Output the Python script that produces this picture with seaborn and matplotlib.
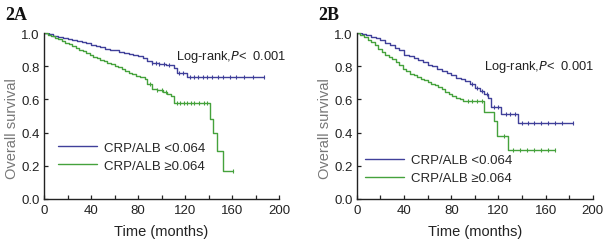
import numpy as np
import pandas as pd
import matplotlib
matplotlib.use('Agg')
import matplotlib.pyplot as plt
import seaborn as sns

# ---- Panel 2A ----
a_low_t = [0, 4, 8, 12, 16, 20, 24, 28, 32, 36, 40, 44, 48, 52, 56, 60, 64, 68, 72, 76,
           80, 84, 88, 92, 98, 104, 111, 113, 122]
a_low_s = [1.0, 0.995, 0.985, 0.978, 0.97, 0.965, 0.958, 0.95, 0.945, 0.938, 0.93, 0.922,
           0.915, 0.905, 0.9, 0.895, 0.888, 0.88, 0.875, 0.868, 0.86, 0.85, 0.83, 0.822,
           0.815, 0.81, 0.79, 0.757, 0.735]
a_low_end = 187
a_low_cens = [92, 95, 98, 102, 106, 115, 118, 124, 128, 131, 135, 139, 143, 148, 152, 158,
              163, 170, 178, 187]

a_high_t = [0, 3, 6, 9, 12, 15, 18, 21, 24, 27, 30, 33, 36, 39, 42, 45, 48, 51, 54, 57, 60,
            63, 66, 69, 72, 75, 78, 82, 86, 88, 92, 96, 101, 105, 108, 111, 141, 143.5, 147, 152]
a_high_s = [1.0, 0.99, 0.982, 0.972, 0.962, 0.952, 0.942, 0.932, 0.92, 0.91, 0.9, 0.89,
            0.878, 0.865, 0.857, 0.848, 0.84, 0.83, 0.822, 0.813, 0.803, 0.795, 0.785, 0.772,
            0.762, 0.752, 0.742, 0.735, 0.72, 0.69, 0.665, 0.655, 0.645, 0.632, 0.62, 0.58,
            0.48, 0.40, 0.29, 0.17]
a_high_end = 161
a_high_cens = [90, 96, 100, 104, 113, 116, 119, 122, 125, 128, 132, 136, 139, 161]

# ---- Panel 2B ----
b_low_t = [0, 4, 8, 12, 16, 20, 24, 28, 32, 36, 40, 44, 48, 52, 56, 60, 64, 68, 72, 76, 80,
           84, 88, 92, 96, 100, 104, 108, 111, 114, 122, 137]
b_low_s = [1.0, 0.995, 0.988, 0.978, 0.968, 0.958, 0.94, 0.925, 0.91, 0.895, 0.87, 0.86,
           0.848, 0.835, 0.825, 0.81, 0.8, 0.785, 0.77, 0.758, 0.745, 0.73, 0.72, 0.71,
           0.695, 0.67, 0.65, 0.63, 0.61, 0.555, 0.515, 0.455]
b_low_end = 183
b_low_cens = [98, 102, 106, 110, 116, 120, 126, 130, 134, 140, 145, 150, 156, 162, 168, 174, 183]

b_high_t = [0, 3, 6, 9, 12, 15, 18, 21, 24, 27, 30, 33, 36, 39, 42, 45, 48, 51, 54, 57, 60,
            63, 66, 69, 72, 75, 78, 81, 84, 87, 90, 108, 116, 119, 128]
b_high_s = [1.0, 0.99, 0.975, 0.96, 0.945, 0.925, 0.905, 0.885, 0.87, 0.855, 0.845, 0.825,
            0.805, 0.785, 0.77, 0.755, 0.745, 0.735, 0.725, 0.715, 0.705, 0.695, 0.685,
            0.675, 0.66, 0.645, 0.635, 0.62, 0.61, 0.6, 0.59, 0.525, 0.47, 0.38, 0.295]
b_high_end = 168
b_high_cens = [94, 98, 102, 106, 125, 132, 138, 144, 150, 156, 162, 168]

labels = ['CRP/ALB <0.064', 'CRP/ALB ≥0.064']
colors = ['#40409a', '#45a23c']


def km_frame(t, s, end):
    return pd.DataFrame({'time': list(t) + [end], 'surv': list(s) + [s[-1]]})


def cens_frame(t, s, cens):
    idx = np.searchsorted(np.array(t), np.array(cens), side='right') - 1
    return pd.DataFrame({'time': cens, 'surv': np.array(s)[idx]})


sns.set_style('ticks')
plt.rcParams['font.family'] = ['Liberation Sans', 'DejaVu Sans']

fig = plt.figure(figsize=(6.08, 2.53), dpi=100)
ax_a = fig.add_axes([0.0724, 0.2095, 0.3865, 0.656])
ax_b = fig.add_axes([0.587, 0.2095, 0.388, 0.656])

panels = [
    (ax_a, '2A', [(a_low_t, a_low_s, a_low_end, a_low_cens), (a_high_t, a_high_s, a_high_end, a_high_cens)],
     (0.56, 0.86), (0.025, 0.115)),
    (ax_b, '2B', [(b_low_t, b_low_s, b_low_end, b_low_cens), (b_high_t, b_high_s, b_high_end, b_high_cens)],
     (0.54, 0.80), (0.0, 0.04)),
]

for ax, tag, groups, lr_pos, leg_pos in panels:
    for (t, s, end, cens), lab, col in zip(groups, labels, colors):
        sns.lineplot(data=km_frame(t, s, end), x='time', y='surv', ax=ax, color=col,
                     drawstyle='steps-post', linewidth=1.0, label=lab, estimator=None)
        sns.scatterplot(data=cens_frame(t, s, cens), x='time', y='surv', ax=ax, color=col,
                        marker='|', s=12, linewidth=0.8, legend=False)

    ax.set_xlim(0, 200)
    ax.set_ylim(0, 1.0)
    ax.set_xticks(np.arange(0, 201, 40))
    ax.set_xticks(np.arange(0, 201, 20), minor=True)
    ax.set_yticks(np.arange(0, 1.01, 0.2))
    ax.set_yticklabels([f'{v:.1f}' for v in np.arange(0, 1.01, 0.2)])
    ax.tick_params(direction='in', length=3, width=0.9, labelsize=9.5, colors='#222222')
    ax.tick_params(which='minor', direction='in', length=3, width=0.9)
    ax.tick_params(axis='y', pad=3)
    for sp in ['top', 'right']:
        ax.spines[sp].set_visible(False)
    for sp in ['left', 'bottom']:
        ax.spines[sp].set_linewidth(1.0)
        ax.spines[sp].set_color('#222222')
    ax.set_xlabel('Time (months)', fontsize=10.5, color='#222222', labelpad=6)
    ax.set_ylabel('Overall survival', fontsize=10.5, color='#777777')
    ax.yaxis.set_label_coords(-0.105, 0.43)

    ax.text(lr_pos[0], lr_pos[1], 'Log-rank,$\\mathit{P}$<  0.001', transform=ax.transAxes,
            fontsize=9.3, color='#222222', ha='left', va='center')

    ax.legend(loc='lower left', bbox_to_anchor=leg_pos, frameon=False, fontsize=9.5,
              handlelength=3.0, handletextpad=0.5, labelspacing=0.45, borderaxespad=0.2)

    ax.text(-0.165, 1.11, tag, transform=ax.transAxes, fontsize=13, fontweight='bold',
            family='Liberation Serif', ha='left', va='center', color='#111111')

fig.savefig('out.png', dpi=100, facecolor='white')
